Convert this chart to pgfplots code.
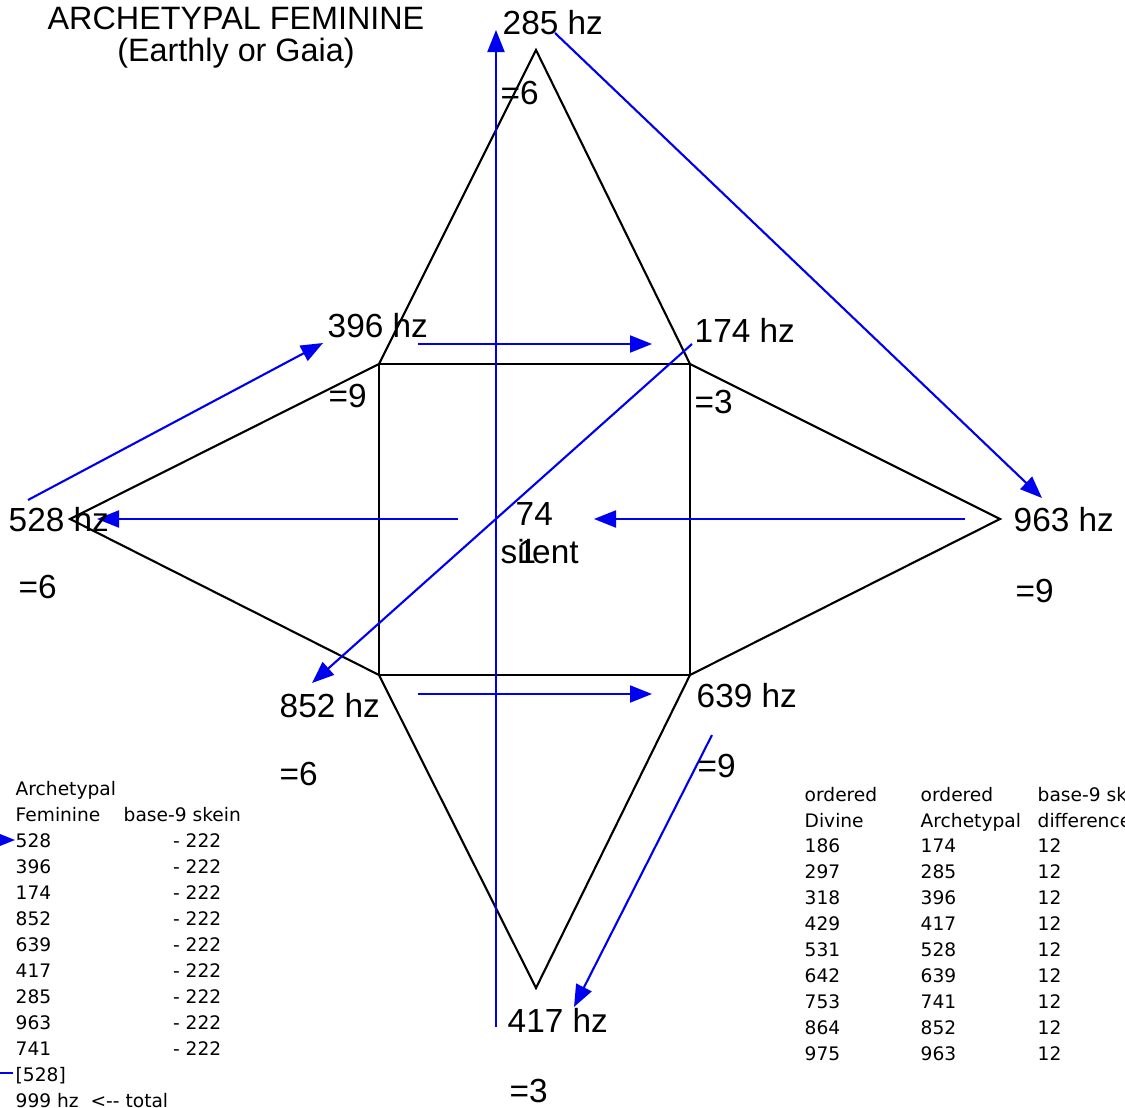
\documentclass[border=0pt]{standalone}
\usepackage{fontspec}
\setmainfont{Liberation Sans}
\newfontfamily\tablefont{DejaVu Sans}
\usepackage{pgfplots}
\pgfplotsset{compat=1.18}
\usetikzlibrary{arrows.meta}
\definecolor{arrowblue}{RGB}{0,0,240}
\tikzset{big/.style={font=\fontsize{9.5}{11}\selectfont, anchor=base west, inner sep=0pt}}
\pgfplotsset{
  tbl/.style={draw=none, nodes near coords, point meta=explicit symbolic,
     nodes near coords style={anchor=base west, inner sep=0pt, font=\tablefont\fontsize{5.3}{6}\selectfont}},
  tblr/.style={draw=none, nodes near coords, point meta=explicit symbolic,
     nodes near coords style={anchor=base east, inner sep=0pt, font=\tablefont\fontsize{5.3}{6}\selectfont}},
}
\tikzset{ar/.style={arrowblue, line width=0.6pt, -{Triangle[length=0.22cm, width=0.17cm]}}}
\begin{document}
\begin{tikzpicture}
\begin{axis}[
  hide axis, scale only axis,
  width=11.25cm, height=11.08cm,
  xmin=0, xmax=1125, ymin=0, ymax=1108,
  y dir=reverse, clip=false,
]
% diagram (black)
\addplot[black, line width=0.6pt] coordinates {(379,364) (690,364) (690,675) (379,675) (379,364)};
\addplot[black, line width=0.6pt] coordinates {(379,364) (536,50) (690,364)};
\addplot[black, line width=0.6pt] coordinates {(379,364) (70,519) (379,675)};
\addplot[black, line width=0.6pt] coordinates {(690,364) (1000,519) (690,675)};
\addplot[black, line width=0.6pt] coordinates {(379,675) (536,988) (690,675)};
% blue arrows
\addplot[ar] coordinates {(496,1027) (496,30)};
\addplot[ar] coordinates {(555,33) (1042,498)};
\addplot[ar] coordinates {(418,344) (652,344)};
\addplot[ar] coordinates {(28,500) (323,343)};
\addplot[ar] coordinates {(692,344) (312,683)};
\addplot[ar] coordinates {(458,519) (97,519)};
\addplot[ar] coordinates {(965,519) (594,519)};
\addplot[ar] coordinates {(418,694) (652,694)};
\addplot[ar] coordinates {(712,735) (574,1007)};
\addplot[ar] coordinates {(-20,840) (15,840)};
\addplot[arrowblue, line width=0.6pt] coordinates {(-5,1073) (13,1073)};
% labels
\node[font=\fontsize{9.2}{11}\selectfont, anchor=base, inner sep=0pt] at (axis cs:236,29) {ARCHETYPAL FEMININE};
\node[font=\fontsize{9.2}{11}\selectfont, anchor=base, inner sep=0pt] at (axis cs:236,61) {(Earthly or Gaia)};
\node[big] at (axis cs:502,34) {285 hz};
\node[big] at (axis cs:500,104) {=6};
\node[big] at (axis cs:327,337) {396 hz};
\node[big] at (axis cs:694,342) {174 hz};
\node[big] at (axis cs:328,407) {=9};
\node[big] at (axis cs:694,413) {=3};
\node[big] at (axis cs:8,531) {528 hz};
\node[big] at (axis cs:18,598) {=6};
\node[big] at (axis cs:515,525) {74};
\node[big] at (axis cs:500,563) {silent};
\node[big] at (axis cs:517,563) {1};
\node[big] at (axis cs:1013,531) {963 hz};
\node[big] at (axis cs:1015,602) {=9};
\node[big] at (axis cs:279,717) {852 hz};
\node[big] at (axis cs:279,785) {=6};
\node[big] at (axis cs:696,707) {639 hz};
\node[big] at (axis cs:697,777) {=9};
\node[big] at (axis cs:507,1032) {417 hz};
\node[big] at (axis cs:509,1102) {=3};
% left table
\addplot[tbl] coordinates {
 (15,795)[Archetypal] (15,821)[Feminine] (123,821)[base-9 skein]
 (15,847)[528] (15,873)[396] (15,899)[174] (15,925)[852] (15,951)[639]
 (15,977)[417] (15,1003)[285] (15,1029)[963] (15,1055)[741]
 (15,1081)[{[528]}] (15,1107)[999 hz\ \ <-{}- total]
};
\addplot[tblr] coordinates {
 (222,847)[- 222] (222,873)[- 222] (222,899)[- 222] (222,925)[- 222] (222,951)[- 222]
 (222,977)[- 222] (222,1003)[- 222] (222,1029)[- 222] (222,1055)[- 222]
};
% right table
\addplot[tbl] coordinates {
 (804,801)[ordered] (804,827)[Divine]
 (804,852)[186] (804,878)[297] (804,904)[318] (804,930)[429] (804,956)[531]
 (804,982)[642] (804,1008)[753] (804,1034)[864] (804,1060)[975]
};
\addplot[tbl] coordinates {
 (920,801)[ordered] (920,827)[Archetypal]
 (920,852)[174] (920,878)[285] (920,904)[396] (920,930)[417] (920,956)[528]
 (920,982)[639] (920,1008)[741] (920,1034)[852] (920,1060)[963]
};
\addplot[tbl] coordinates {
 (1037,801)[base-9 skein] (1037,827)[difference]
 (1037,852)[12] (1037,878)[12] (1037,904)[12] (1037,930)[12] (1037,956)[12]
 (1037,982)[12] (1037,1008)[12] (1037,1034)[12] (1037,1060)[12]
};
\end{axis}
\pgfresetboundingbox
\useasboundingbox (current axis.south west) rectangle (current axis.north east);
\end{tikzpicture}
\end{document}
